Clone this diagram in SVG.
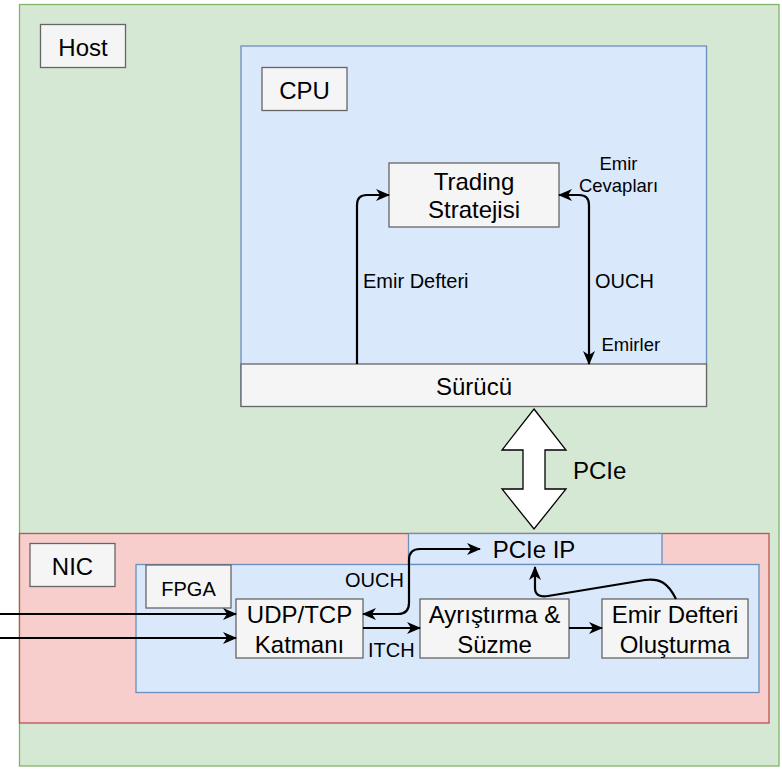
<svg xmlns="http://www.w3.org/2000/svg" width="782" height="769" viewBox="0 0 782 769">
<style>
text { font-family: "Liberation Sans", Arial, sans-serif; fill: #000; }
.green { fill: #d5e8d4; stroke: #82b366; stroke-width: 1.3; }
.blue { fill: #dae8fc; stroke: #6c8ebf; stroke-width: 1.3; }
.red { fill: #f8cecc; stroke: #b85450; stroke-width: 1.3; }
.box { fill: #f5f5f5; stroke: #666666; stroke-width: 1.3; }
.big { font-size: 24px; }
.mid { font-size: 20px; }
.small { font-size: 18.5px; }
.c { text-anchor: middle; }
.edge { fill: none; stroke: #000; stroke-width: 2.2; }
</style>
<defs>
<marker id="arr" viewBox="0 0 14 12" refX="13" refY="6" markerWidth="14" markerHeight="12" markerUnits="userSpaceOnUse" orient="auto-start-reverse">
<path d="M0,0 L14,6 L0,12 L4,6 Z" fill="#000"/>
</marker>
</defs>
<g id="host">
<rect class="green" x="19.5" y="4.5" width="759.5" height="761.5"/>
<rect class="box" x="40.5" y="24.5" width="85" height="43"/>
<text class="big c" x="83" y="56">Host</text>
</g>
<g id="cpu">
<rect class="blue" x="241" y="46" width="465.5" height="360"/>
<rect class="box" x="262" y="67.5" width="85" height="43"/>
<text class="big c" x="304.5" y="99">CPU</text>
</g>
<g id="trading">
<rect class="box" x="389" y="163" width="170" height="64"/>
<text class="big c" x="474" y="190">Trading</text>
<text class="big c" x="474" y="218">Stratejisi</text>
</g>
<g id="surucu">
<rect class="box" x="241" y="364" width="465.5" height="42.5"/>
<text class="big c" x="474" y="395">Sürücü</text>
</g>
<g id="nic">
<rect class="red" x="19.5" y="533.5" width="749.5" height="189.5"/>
<rect class="box" x="30" y="543.5" width="85" height="43"/>
<text class="big c" x="72.5" y="574.5">NIC</text>
</g>
<g id="pcie-ip">
<rect class="blue" x="408.5" y="533.5" width="253.5" height="31"/>
<text class="big c" x="534" y="557.5">PCIe IP</text>
</g>
<g id="fpga">
<rect class="blue" x="136" y="564.5" width="623" height="128"/>
<rect class="box" x="146" y="565" width="85" height="43"/>
<text class="mid c" x="188.5" y="596">FPGA</text>
</g>
<g id="udp">
<rect class="box" x="236" y="599" width="127" height="59"/>
<text class="big c" x="299.5" y="622.5">UDP/TCP</text>
<text class="big c" x="299.5" y="652.5">Katmanı</text>
</g>
<g id="ayristirma">
<rect class="box" x="420" y="599" width="149" height="59"/>
<text class="big c" x="494.5" y="622.5">Ayrıştırma &amp;</text>
<text class="big c" x="494.5" y="652.5">Süzme</text>
</g>
<g id="olusturma">
<rect class="box" x="602" y="599" width="146" height="59"/>
<text class="big c" x="675" y="622.5">Emir Defteri</text>
<text class="big c" x="675" y="652.5">Oluşturma</text>
</g>
<g id="pcie-link">
<polygon points="534,409 566,450 545,450 545,489 566,489 534,529 502,489 523,489 523,450 502,450" fill="#fff" stroke="#000" stroke-width="1.3"/>
<text class="big" x="573" y="479">PCIe</text>
</g>
<g id="connectors">
<path class="edge" d="M357,364 L357,205 Q357,195 367,195 L389,195" marker-end="url(#arr)"/>
<path class="edge" d="M559,195 L579,195 Q589,195 589,205 L589,364" marker-start="url(#arr)" marker-end="url(#arr)"/>
<path class="edge" d="M0,614 L236,614" marker-end="url(#arr)"/>
<path class="edge" d="M0,638 L236,638" marker-end="url(#arr)"/>
<path class="edge" d="M363,628 L420,628" marker-end="url(#arr)"/>
<path class="edge" d="M569,628 L602,628" marker-end="url(#arr)"/>
<path class="edge" d="M363,614 L398,614 Q409,614 409,603 L409,560 Q409,549 420,549 L480,549" marker-start="url(#arr)" marker-end="url(#arr)"/>
<path class="edge" d="M676,599 C668,583 660,578 645,580 L548,596 Q535,598 535,588 L535,567" marker-end="url(#arr)"/>
<text class="mid" x="363" y="288">Emir Defteri</text>
<text class="mid" x="595" y="288">OUCH</text>
<text class="small c" x="618.5" y="170">Emir</text>
<text class="small c" x="618.5" y="192">Cevapları</text>
<text class="small" x="601.5" y="351">Emirler</text>
<text class="mid" x="345" y="587">OUCH</text>
<text class="mid" x="368" y="657">ITCH</text>
</g>
</svg>
